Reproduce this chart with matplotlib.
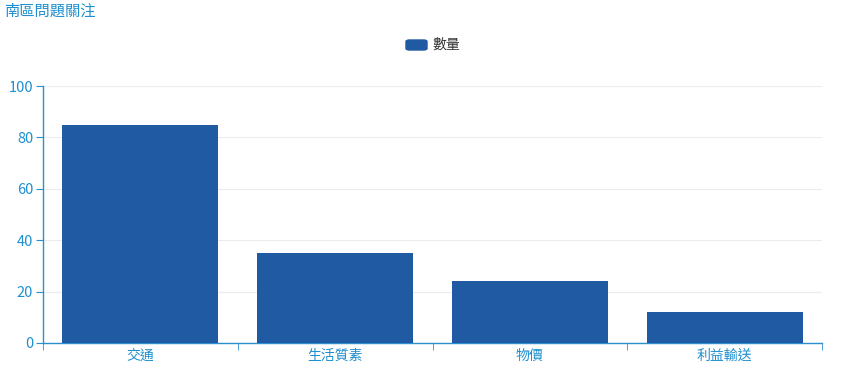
import matplotlib
matplotlib.use("Agg")
import matplotlib.pyplot as plt
from matplotlib.patches import FancyBboxPatch

plt.rcParams['font.family'] = ['Noto Sans CJK TC', 'DejaVu Sans']

# data
categories = ['交通', '生活質素', '物價', '利益輸送']
counts = [85, 35, 24, 12]
series_name = '數量'
title = '南區問題關注'

bar_color = '#1f5aa2'
axis_color = '#2b8fd0'
label_color = '#1e8fcf'

fig = plt.figure(figsize=(8.64, 3.85), dpi=100)
ax = fig.add_axes([43 / 864, 42 / 385, 779 / 864, 257 / 385])

x = list(range(len(categories)))
ax.bar(x, counts, width=0.8, color=bar_color, zorder=3)

ax.set_xlim(-0.5, len(categories) - 0.5)
ax.set_ylim(0, 100)
ax.set_yticks(range(0, 101, 20))
ax.set_xticks(x)
ax.set_xticklabels(categories)
ax.set_xticks([i - 0.5 for i in range(len(categories) + 1)], minor=True)

ax.tick_params(axis='x', which='major', length=0, pad=4, labelsize=10, labelcolor=label_color)
ax.tick_params(axis='x', which='minor', length=5, color=axis_color, direction='out')
ax.tick_params(axis='y', length=5, color=axis_color, labelsize=10.5, labelcolor=label_color, pad=2)

ax.grid(axis='y', color='#ececec', linewidth=0.8, zorder=0)
for side in ['top', 'right']:
    ax.spines[side].set_visible(False)
for side in ['left', 'bottom']:
    ax.spines[side].set_color(axis_color)
    ax.spines[side].set_linewidth(1)

fig.text(4 / 864, 1 - 11 / 385, title, color=label_color, fontsize=11, va='center', ha='left')

# legend
legend_patch = FancyBboxPatch((406 / 864, 1 - 50 / 385), 21 / 864, 10 / 385,
                              boxstyle='round,pad=0,rounding_size=0.004',
                              transform=fig.transFigure, color=bar_color)
fig.patches.append(legend_patch)
fig.text(432 / 864, 1 - 45 / 385, series_name, color='#333333', fontsize=10, va='center', ha='left')

fig.savefig('out.png', dpi=100)
